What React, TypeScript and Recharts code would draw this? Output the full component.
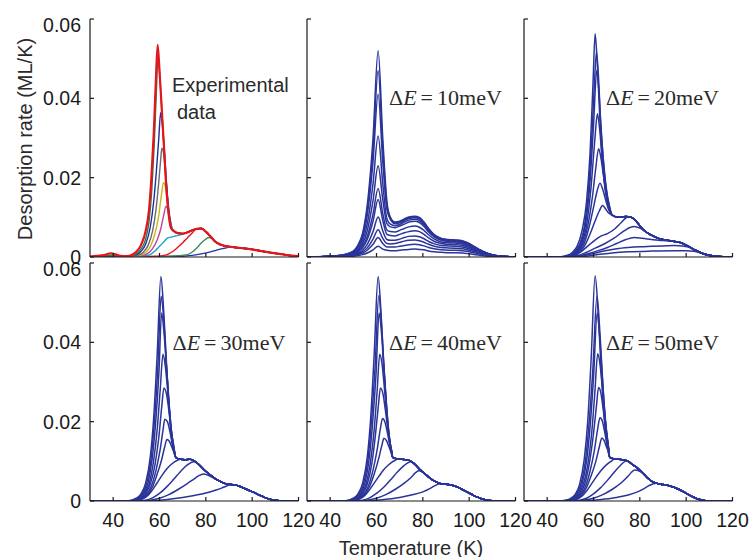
import React from "react";
import { LineChart, Line, XAxis, YAxis } from "recharts";

type Pt = [number, number];

// axis ticks: temperature in K, rate in 10^-3 ML/K
const xTicks = [40, 60, 80, 100, 120];
const yTicks = [0, 20, 40, 60];
const yTickLabels = ["0", "0.02", "0.04", "0.06"];
const deLabels = ["10", "20", "30", "40", "50"];

// ---------- experimental data (10^-3 ML/K) ----------
const expTail: Pt[] = [[66, 6.6], [68, 6.0], [70, 5.9], [72, 6.2], [74, 6.7], [76, 7.1], [78, 7.2], [80, 6.4], [82, 5.2], [84, 3.9], [86, 3.2], [88, 2.8], [90, 2.6], [93, 2.4], [96, 2.2], [99, 2.0], [102, 1.7], [105, 1.4], [108, 1.1], [111, 0.85], [114, 0.6], [117, 0.35], [120, 0.2]];
const expRed: Pt[] = [[30, 0.1], [33, 0.3], [36, 0.5], [39, 0.9], [41, 0.7], [43, 0.3], [46, 0.2], [48, 0.5], [50, 1.3], [52, 3], [54, 6.5], [55.5, 12], [56.5, 20], [57.5, 31], [58.4, 44], [59.2, 53.5], [60, 47], [61, 37], [62, 27], [63, 17], [64, 10.5], [65, 7.3]];
const expGreen: Pt[] = [[30, 0], [36, 0.3], [40, 0.4], [44, 0.2], [48, 0.3], [50, 0.8], [52, 2], [54, 4.5], [55.5, 9], [56.7, 17], [57.7, 28], [58.6, 41], [59.4, 50.5], [60.2, 45], [61, 37], [62, 27], [63, 17.5], [64, 10.5], [65, 7.3]];
const expBlue: Pt[] = [[30, 0], [40, 0.3], [46, 0.2], [50, 0.6], [52, 1.4], [54, 3.2], [56, 7.5], [57.5, 14], [58.7, 22], [59.7, 30], [60.5, 36.4], [61.3, 33], [62.2, 26], [63.1, 18], [64, 11.5], [65, 7.5]];
const expGray: Pt[] = [[30, 0], [40, 0.2], [47, 0.2], [51, 0.5], [53, 1.2], [55, 2.8], [57, 6.5], [58.5, 12], [59.7, 19], [60.5, 24.5], [61, 27.4], [61.8, 26], [62.6, 21], [63.5, 15], [64.5, 10], [65.5, 7]];
const expYellow: Pt[] = [[30, 0], [48, 0.2], [52, 0.5], [54, 1.1], [56, 2.6], [58, 5.8], [59.5, 9.8], [60.7, 15], [61.7, 18.7], [62.6, 17.5], [63.4, 14], [64.3, 10], [65.3, 7.2]];
const expMagenta: Pt[] = [[30, 0], [49, 0.1], [53, 0.4], [55, 0.9], [57, 2.1], [59, 4.3], [60.5, 7], [61.7, 10.2], [62.8, 12.8], [63.6, 12], [64.4, 10], [65.3, 7.5]];
const expCyan: Pt[] = [[30, 0], [50, 0.1], [54, 0.3], [56, 0.6], [58, 1.5], [60, 2.7], [62, 3.9], [63.5, 4.8], [65, 5.0], [67, 5.3], [69, 5.6], [71, 6.0]];
const expRedLow: Pt[] = [[30, 0], [52, 0.1], [58, 0.2], [62, 0.4], [64, 0.8], [66, 1.5], [68, 2.5], [70, 3.6], [72, 4.8], [74, 6], [75.3, 6.8]];
const expGreenLow: Pt[] = [[30, 0], [60, 0.1], [68, 0.3], [72, 0.6], [74, 1.2], [76, 2.2], [78, 3.5], [80, 4.5], [81.2, 4.9], [82.6, 4.6]];
const expBlueLow: Pt[] = [[30, 0], [60, 0.1], [70, 0.2], [74, 0.4], [78, 0.8], [82, 1.3], [85, 1.8], [88, 2.2], [90.5, 2.5]];

// drawn bottom to top
const expHeads = [expBlueLow, expGreenLow, expRedLow, expCyan, expMagenta, expYellow, expGray, expBlue, expGreen, expRed];
const expColors = ["#27339e", "#3b8a5c", "#e8141c", "#16a6c9", "#c0449c", "#c9b516", "#6b6b6b", "#1f2d9c", "#2e7b4f", "#e8141c"];

// ---------- dE = 10 meV ----------
const t10 = [30, 40, 46, 50, 52, 54, 56, 58.5, 60.7, 62.7, 64.5, 66, 68, 70, 72, 74, 76.5, 78.5, 80.5, 82.5, 85, 88, 91, 94, 97, 100, 104, 108, 112, 120];
const de10: number[][] = [
  [0, 0.2, 0.6, 1.5, 3.0, 6.0, 13, 30, 52, 30, 14, 10, 8.8, 9.0, 9.6, 10.1, 10.3, 10.0, 8.8, 7.2, 5.6, 4.7, 4.4, 4.3, 4.1, 3.4, 2.0, 0.9, 0.3, 0],
  [0, 0.2, 0.6, 1.4, 2.8, 5.5, 12, 27, 47, 27.5, 13, 9.8, 8.6, 8.8, 9.4, 9.9, 10.1, 9.8, 8.6, 7.0, 5.5, 4.6, 4.3, 4.2, 4.0, 3.3, 2.0, 0.9, 0.3, 0],
  [0, 0.2, 0.5, 1.3, 2.5, 4.9, 10.5, 24, 41, 24, 12, 9.5, 8.4, 8.6, 9.2, 9.7, 9.9, 9.6, 8.4, 6.9, 5.4, 4.5, 4.2, 4.1, 3.9, 3.2, 1.9, 0.9, 0.3, 0],
  [0, 0.2, 0.5, 1.1, 2.1, 4.0, 8.3, 18.5, 30.5, 18.5, 9.6, 8.3, 7.9, 8.2, 8.8, 9.3, 9.5, 9.2, 8.1, 6.6, 5.2, 4.4, 4.1, 4.0, 3.8, 3.1, 1.9, 0.9, 0.3, 0],
  [0, 0.2, 0.4, 1.0, 1.8, 3.3, 6.6, 14.2, 23, 14.5, 8.4, 7.6, 7.4, 7.8, 8.3, 8.8, 9.0, 8.7, 7.7, 6.3, 5.0, 4.2, 3.9, 3.8, 3.6, 3.0, 1.8, 0.8, 0.3, 0],
  [0, 0.2, 0.4, 0.9, 1.5, 2.7, 5.2, 10.8, 17.3, 11, 6.8, 6.4, 6.3, 6.7, 7.2, 7.6, 7.8, 7.5, 6.7, 5.6, 4.5, 3.8, 3.6, 3.5, 3.3, 2.7, 1.7, 0.8, 0.3, 0],
  [0, 0.2, 0.4, 0.8, 1.3, 2.3, 4.4, 9.0, 14.5, 9.2, 5.7, 5.4, 5.3, 5.7, 6.1, 6.4, 6.6, 6.4, 5.7, 4.8, 3.9, 3.4, 3.2, 3.1, 2.9, 2.4, 1.5, 0.7, 0.2, 0],
  [0, 0.1, 0.3, 0.6, 1.0, 1.7, 3.2, 6.4, 10.1, 6.6, 4.4, 4.2, 4.2, 4.5, 4.9, 5.2, 5.3, 5.1, 4.6, 3.9, 3.3, 2.9, 2.8, 2.7, 2.5, 2.1, 1.3, 0.6, 0.2, 0],
  [0, 0.1, 0.3, 0.5, 0.8, 1.3, 2.3, 4.5, 6.9, 4.7, 3.4, 3.3, 3.4, 3.7, 4.0, 4.2, 4.3, 4.1, 3.7, 3.2, 2.7, 2.4, 2.3, 2.2, 2.1, 1.7, 1.1, 0.5, 0.2, 0],
  [0, 0.1, 0.2, 0.4, 0.6, 1.0, 1.7, 3.2, 4.9, 3.4, 2.5, 2.5, 2.5, 2.7, 2.9, 3.1, 3.2, 3.1, 2.8, 2.4, 2.1, 1.8, 1.7, 1.7, 1.6, 1.3, 0.8, 0.4, 0.1, 0],
  [0, 0.1, 0.1, 0.2, 0.4, 0.6, 1.0, 1.8, 2.7, 2.0, 1.7, 1.6, 1.6, 1.7, 1.8, 1.9, 2.0, 1.9, 1.8, 1.5, 1.3, 1.2, 1.1, 1.1, 1.0, 0.8, 0.5, 0.2, 0.1, 0],
];

// ---------- dE = 20 meV ----------
const tail20: Pt[] = [[68, 10.6], [70, 10.1], [72, 10.1], [74, 10.2], [76, 10.1], [78, 9.3], [80, 7.9], [82, 6.6], [85, 5.5], [88, 4.7], [91, 4.3], [94, 4.0], [97, 3.7], [100, 3.0], [104, 1.7], [108, 0.7], [112, 0.25], [116, 0.05], [120, 0]];
const de20: Pt[][] = [
  [[30, 0], [44, 0], [48, 0.3], [51, 1.2], [53, 2.8], [55, 6.5], [57, 14], [58.5, 26], [59.8, 44], [60.7, 56.3], [61.6, 49], [62.5, 38], [63.5, 27], [65, 17], [66.5, 12.5]],
  [[30, 0], [45, 0], [49, 0.3], [52, 1.4], [54, 3.2], [56, 7.5], [58, 18], [59.5, 33], [60.5, 45], [61.3, 51.7], [62.1, 46], [63, 35], [64, 26], [65.5, 17], [67, 12.5]],
  [[30, 0], [46, 0], [50, 0.4], [52.5, 1.5], [54.5, 3.5], [56.5, 8], [58.5, 19], [60, 33], [61.4, 47], [62.3, 42], [63.2, 33], [64.2, 25], [65.5, 17.5], [67, 12.5]],
  [[30, 0], [46, 0], [50.5, 0.4], [53, 1.6], [55, 3.6], [57, 8], [59, 18], [60.5, 29], [61.7, 36.1], [62.7, 32], [63.7, 25], [65, 18], [66.5, 13]],
  [[30, 0], [47, 0], [51, 0.4], [53.5, 1.6], [55.5, 3.6], [57.5, 7.8], [59.5, 15], [61, 22.5], [62.2, 27.3], [63.2, 25], [64.2, 21], [65.5, 16], [67, 12]],
  [[30, 0], [47, 0], [51.5, 0.4], [54, 1.6], [56, 3.5], [58, 7.3], [60, 12.5], [61.5, 16.5], [62.8, 18.6], [64, 17], [65.2, 14.5], [66.5, 12]],
  [[30, 0], [48, 0], [52, 0.4], [54.5, 1.5], [56.5, 3.2], [58.5, 5.8], [60.5, 8.8], [62.5, 11.6], [63.9, 13], [65, 12.3], [66.3, 11.2]],
  [[30, 0], [48, 0], [52, 0.4], [55, 1.5], [58, 3], [60.5, 4.2], [63, 5.2], [66, 5.9], [69, 7], [72, 8.7], [74.5, 10]],
  [[30, 0], [48, 0], [53, 0.3], [57, 1.2], [61, 2.3], [65, 3.4], [69, 4.8], [73, 6.5], [76, 7.5], [77.6, 7.7], [80, 7.3], [82.5, 6.4]],
  [[30, 0], [48, 0], [54, 0.3], [58, 0.9], [62, 1.6], [66, 2.4], [70, 3.4], [74, 4.4], [77.5, 4.9], [81, 4.7], [85, 4.4], [88, 4.2], [91, 4.1]],
  [[30, 0], [48, 0], [55, 0.3], [60, 0.9], [65, 1.6], [70, 2.1], [75, 2.4], [80, 2.6], [85, 2.7], [90, 2.8], [95, 2.9], [98.5, 2.8], [101, 2.5]],
  [[30, 0], [50, 0], [56, 0.2], [62, 0.6], [68, 1.0], [75, 1.3], [85, 1.5], [95, 1.6], [100, 1.6], [104, 1.4]],
];

// ---------- dE = 30 meV ----------
const tail30: Pt[] = [[67, 11], [69, 10.5], [71, 10.4], [73, 10.5], [75, 10.1], [77, 9.2], [79, 8.0], [81, 7.0], [83, 6.1], [85, 5.3], [87, 4.7], [89, 4.3], [91, 4.15], [93, 4.0], [95, 3.6], [97, 3.1], [99, 2.6], [101, 2.1], [103, 1.5], [105, 1.0], [107, 0.55], [109, 0.25], [112, 0.05], [120, 0]];
const de30: Pt[][] = [
  [[30, 0], [45, 0], [48, 0.2], [50, 0.7], [52, 1.8], [54, 4.5], [56, 11], [57.5, 21], [59, 37], [60.6, 56.6], [61.8, 48], [63, 35], [64, 25], [65, 17], [66, 13]],
  [[30, 0], [45.5, 0], [48.5, 0.2], [50.5, 0.7], [52.5, 1.8], [54.5, 4.5], [56.3, 10.5], [57.8, 20], [59.3, 34], [60.7, 51.6], [61.9, 45], [63, 34], [64, 25], [65, 17.5], [66, 13.5]],
  [[30, 0], [46, 0], [49, 0.2], [51, 0.7], [53, 1.8], [55, 4.5], [56.8, 10.5], [58.3, 19.5], [59.8, 33], [60.9, 47.4], [62, 42], [63.1, 33], [64.1, 25], [65.1, 18], [66.1, 13.5]],
  [[30, 0], [46.5, 0], [49.5, 0.2], [51.5, 0.7], [53.5, 1.8], [55.5, 4.3], [57.3, 9.5], [59, 18], [60.3, 28], [61.5, 37], [62.5, 34], [63.5, 28], [64.5, 21.5], [65.5, 16], [66.5, 12.5]],
  [[30, 0], [47, 0], [50, 0.2], [52, 0.7], [54, 1.8], [56, 4.2], [58, 9], [59.7, 16], [61, 24], [61.9, 28.5], [63, 27], [64, 23], [65, 18], [66, 14.5]],
  [[30, 0], [47.5, 0], [50.5, 0.2], [52.5, 0.7], [54.5, 1.7], [56.5, 3.8], [58.5, 7.8], [60.3, 13], [61.5, 17.8], [62.3, 20.6], [63.4, 20], [64.5, 17.5], [65.5, 14.5], [66.5, 12.5]],
  [[30, 0], [48, 0], [51, 0.2], [53, 0.7], [55, 1.7], [57, 3.6], [59, 6.8], [61, 10.6], [62.3, 13.8], [63.2, 15.5], [64.3, 15], [65.3, 13.6], [66.3, 12.2]],
  [[30, 0], [48, 0], [51, 0.2], [53, 0.6], [55, 1.4], [57, 2.8], [59, 4.6], [61, 6.4], [63, 8], [65, 9.2], [67.5, 10.2]],
  [[30, 0], [50, 0], [54, 0.2], [57, 0.8], [60, 1.9], [63, 3.5], [66, 5.4], [69, 7.4], [72, 9.1], [74.7, 9.9], [76.3, 9.5]],
  [[30, 0], [52, 0], [56, 0.2], [60, 0.7], [64, 1.6], [68, 2.9], [72, 4.4], [75, 5.6], [77, 6.4], [79, 6.8], [81, 6.5], [83, 5.9]],
  [[30, 0], [55, 0], [60, 0.2], [65, 0.5], [70, 0.9], [75, 1.4], [80, 2.0], [84, 2.7], [87, 3.3], [89, 3.8], [91, 4.1]],
];

// ---------- dE = 40 meV ----------
const tail40: Pt[] = [[67, 11], [69, 10.6], [71, 10.5], [73, 10.4], [75, 10.0], [77, 9.0], [79, 7.8], [81, 6.8], [83, 5.8], [85, 5.0], [87, 4.5], [89, 4.25], [91, 4.15], [93, 3.9], [95, 3.5], [97, 2.9], [99, 2.3], [101, 1.7], [103, 1.1], [105, 0.65], [107, 0.3], [110, 0.05], [120, 0]];
const de40: Pt[][] = [
  [[30, 0], [45, 0], [48, 0.2], [50, 0.7], [52, 1.8], [54, 4.5], [56, 11], [57.5, 21], [59, 37], [60.7, 56.6], [61.9, 48], [63, 36], [64, 26], [65, 18], [66, 13.5]],
  [[30, 0], [45.5, 0], [48.5, 0.2], [50.5, 0.7], [52.5, 1.8], [54.5, 4.5], [56.3, 10.5], [57.8, 20], [59.4, 34], [61, 51.8], [62.1, 45], [63.1, 35], [64.1, 26], [65.1, 18.5], [66.1, 13.8]],
  [[30, 0], [46, 0], [49, 0.2], [51, 0.7], [53, 1.8], [55, 4.5], [56.8, 10.5], [58.3, 19.5], [59.8, 32], [61.1, 47.4], [62.2, 42], [63.2, 33], [64.2, 25], [65.2, 18], [66.2, 13.5]],
  [[30, 0], [46.5, 0], [49.5, 0.2], [51.5, 0.7], [53.5, 1.8], [55.5, 4.3], [57.3, 9.5], [59, 18], [60.3, 28], [61.4, 37], [62.4, 34.5], [63.4, 28.5], [64.4, 22], [65.4, 16.5], [66.4, 12.8]],
  [[30, 0], [47, 0], [50, 0.2], [52, 0.7], [54, 1.8], [56, 4.2], [58, 9.5], [59.6, 17], [60.8, 24], [61.7, 28.5], [62.8, 27], [63.8, 23], [64.8, 18.5], [65.8, 14.5], [66.6, 12.5]],
  [[30, 0], [47.5, 0], [50.5, 0.2], [52.5, 0.7], [54.5, 1.7], [56.5, 3.8], [58.5, 7.8], [60.3, 13], [61.6, 18], [62.6, 20.8], [63.6, 20], [64.6, 17.5], [65.6, 14.5], [66.6, 12.5]],
  [[30, 0], [48, 0], [51, 0.2], [53, 0.7], [55, 1.7], [57, 3.6], [59, 6.8], [61, 10.8], [62.3, 14], [63.2, 15.8], [64.3, 15.2], [65.3, 13.8], [66.3, 12.2]],
  [[30, 0], [48, 0], [51, 0.2], [53, 0.6], [55, 1.4], [57, 2.8], [59, 4.5], [61, 6.2], [63, 7.8], [65, 9], [67, 9.9], [68.5, 10.4]],
  [[30, 0], [50, 0], [54, 0.2], [57, 0.8], [60, 1.9], [63, 3.4], [66, 5.3], [69, 7.3], [72, 9.0], [74.7, 9.9], [76.3, 9.5]],
  [[30, 0], [52, 0], [56, 0.2], [60, 0.7], [64, 1.6], [68, 2.9], [72, 4.5], [75, 6.0], [77, 7.2], [78.3, 7.6], [80, 7.2], [82, 6.2]],
  [[30, 0], [55, 0], [60, 0.2], [65, 0.5], [70, 0.9], [75, 1.5], [80, 2.3], [83, 3.1], [85, 3.8], [87, 4.3]],
];

// ---------- dE = 50 meV ----------
const tail50: Pt[] = [[67, 11], [69, 10.6], [71, 10.5], [73, 10.4], [75, 10.0], [77, 9.1], [79, 8.3], [81, 7.2], [83, 6.0], [85, 5.0], [87, 4.5], [89, 4.25], [91, 4.1], [93, 3.8], [95, 3.4], [97, 2.9], [99, 2.3], [101, 1.6], [103, 1.0], [105, 0.5], [107, 0.2], [110, 0.03], [120, 0]];
const de50: Pt[][] = [
  [[30, 0], [45, 0], [48, 0.2], [50, 0.6], [52, 1.6], [54, 4.2], [56, 10.5], [57.5, 20], [59, 36], [60.7, 56.8], [61.9, 48.5], [63, 36.5], [64, 26.5], [65, 18.5], [66, 13.5]],
  [[30, 0], [45.5, 0], [48.5, 0.2], [50.5, 0.6], [52.5, 1.6], [54.5, 4.2], [56.5, 10], [58, 19], [59.7, 33], [61.5, 51.6], [62.5, 45], [63.4, 36], [64.3, 27], [65.3, 19], [66.3, 14]],
  [[30, 0], [46, 0], [49, 0.2], [51, 0.6], [53, 1.6], [55, 4.2], [57, 10], [58.5, 18.5], [60, 31], [61.6, 47.4], [62.6, 42], [63.5, 34], [64.4, 26], [65.4, 19], [66.4, 14]],
  [[30, 0], [46.5, 0], [49.5, 0.2], [51.5, 0.6], [53.5, 1.6], [55.5, 4], [57.5, 9], [59.2, 17], [60.6, 27.5], [61.8, 37.1], [62.8, 34.5], [63.8, 28.5], [64.8, 22], [65.8, 16.5], [66.6, 13]],
  [[30, 0], [47, 0], [50, 0.2], [52, 0.6], [54, 1.6], [56, 3.9], [58, 8.8], [59.8, 16], [61.2, 23.5], [62.2, 28.6], [63.2, 27.2], [64.2, 23], [65.2, 18.5], [66.2, 14.5]],
  [[30, 0], [47.5, 0], [50.5, 0.2], [52.5, 0.6], [54.5, 1.6], [56.5, 3.6], [58.5, 7.5], [60.3, 12.5], [61.7, 17.8], [62.8, 21], [63.8, 20.2], [64.8, 17.5], [65.8, 14.5], [66.6, 12.8]],
  [[30, 0], [48, 0], [51, 0.2], [53, 0.6], [55, 1.6], [57, 3.4], [59, 6.4], [61, 10], [62.5, 13.6], [63.6, 15.9], [64.6, 15.2], [65.6, 13.6], [66.5, 12.3]],
  [[30, 0], [48, 0], [51, 0.2], [53, 0.5], [55, 1.2], [57, 2.5], [59, 4.2], [61, 5.9], [63, 7.5], [65, 8.8], [67, 9.8], [68.5, 10.4]],
  [[30, 0], [50, 0], [54, 0.2], [57, 0.7], [60, 1.8], [63, 3.3], [66, 5.2], [69, 7.3], [72, 9.2], [74, 10.1], [76, 9.6]],
  [[30, 0], [52, 0], [56, 0.2], [60, 0.7], [64, 1.6], [68, 2.9], [72, 4.6], [75, 6.3], [76.5, 7.3], [77.8, 7.8], [80, 7.5]],
  [[30, 0], [55, 0], [60, 0.2], [65, 0.5], [70, 0.9], [75, 1.5], [79, 2.3], [82, 3.2], [84, 3.9], [85.6, 4.3]],
];

// ---------- layout ----------
const PLOT_W = 208.5;
const PLOT_H = 238;
const AX_W = 60;
const AX_H = 34;
const PAD = 5;
const PAD_R = 24;
const colLeft = [90, 307, 523.5];
const rowTop = [19, 262.5];
const SIM_BLUE = "#2a3499";
const INK = "#1a1a1a";

const withTail = (head: Pt[], tail: Pt[]): Pt[] => {
  const last = head[head.length - 1][0];
  return [...head, ...tail.filter(([t]) => t > last + 0.2)];
};
const toRows = (pts: Pt[]) => pts.map(([t, v]) => ({ t, v }));

interface Series {
  data: { t: number; v: number }[];
  color: string;
  width: number;
}

const expSeries: Series[] = expHeads.map((h, i) => ({
  data: toRows(withTail(h, expTail)),
  color: expColors[i],
  width: i === expHeads.length - 1 ? 2.2 : 1.4,
}));

const simSeries = (curves: Pt[][], tail: Pt[]): Series[] =>
  curves.map((h) => ({ data: toRows(withTail(h, tail)), color: SIM_BLUE, width: 1.5 }));

const panels: Series[][] = [
  expSeries,
  de10.map((vals) => ({ data: t10.map((t, i) => ({ t, v: vals[i] })), color: SIM_BLUE, width: 1.5 })),
  simSeries(de20, tail20),
  simSeries(de30, tail30),
  simSeries(de40, tail40),
  simSeries(de50, tail50),
];

const tickStyle = { fontSize: 19.5, fill: INK, fontFamily: "Liberation Sans, Arial, sans-serif" };
const frame = { stroke: INK, strokeWidth: 1.2 };

const Panel = ({ series, col, row }: { series: Series[]; col: number; row: number }) => {
  const showX = row === 1;
  const showY = col === 0;
  return (
    <div style={{ position: "absolute", left: colLeft[col] - AX_W, top: rowTop[row] - PAD }}>
      <LineChart
        width={AX_W + PLOT_W + PAD_R}
        height={PAD + PLOT_H + AX_H}
        margin={{ top: PAD, right: PAD_R, bottom: 0, left: 0 }}
      >
        <XAxis
          xAxisId="b"
          dataKey="t"
          type="number"
          domain={[30, 120]}
          allowDataOverflow
          ticks={xTicks}
          height={AX_H}
          tickSize={-4}
          tickMargin={16}
          axisLine={frame}
          tickLine={frame}
          tick={tickStyle}
          tickFormatter={(v: number) => (showX ? String(v) : "")}
        />
        <XAxis
          xAxisId="t"
          orientation="top"
          type="number"
          domain={[30, 120]}
          allowDataOverflow
          ticks={xTicks}
          height={0}
          tickSize={-4}
          axisLine={frame}
          tickLine={frame}
          tickFormatter={() => ""}
        />
        <YAxis
          yAxisId="l"
          type="number"
          domain={[0, 60]}
          allowDataOverflow
          ticks={yTicks}
          width={AX_W}
          tickSize={-4}
          tickMargin={13}
          axisLine={frame}
          tickLine={frame}
          tick={tickStyle}
          tickFormatter={(v: number) => (showY ? yTickLabels[yTicks.indexOf(v)] : "")}
        />
        <YAxis
          yAxisId="r"
          orientation="right"
          type="number"
          domain={[0, 60]}
          allowDataOverflow
          ticks={yTicks}
          width={0}
          tickSize={-4}
          axisLine={frame}
          tickLine={frame}
          tickFormatter={() => ""}
        />
        {series.map((s, i) => (
          <Line
            key={i}
            xAxisId="b"
            yAxisId="l"
            data={s.data}
            dataKey="v"
            type="monotone"
            stroke={s.color}
            strokeWidth={s.width}
            dot={false}
            activeDot={false}
            isAnimationActive={false}
          />
        ))}
      </LineChart>
    </div>
  );
};

// ΔE annotation positions: [x, baseline]
const deLabelPos: [number, number][] = [
  [389, 105],
  [606, 105],
  [172.5, 350],
  [389, 350],
  [606, 350],
];

const App = () => {
  return (
    <div style={{ position: "fixed", left: 0, top: 0, width: 750, height: 557, background: "#fff", overflow: "hidden" }}>
      {panels.map((s, i) => (
        <Panel key={i} series={s} col={i % 3} row={Math.floor(i / 3)} />
      ))}
      <svg width={750} height={557} style={{ position: "absolute", left: 0, top: 0, pointerEvents: "none" }}>
        <g fontFamily="Liberation Sans, Arial, sans-serif" fontSize={20} fill="#2a2a2a">
          <text x={32} y={139} textAnchor="middle" transform="rotate(-90 32 139)">
            Desorption rate (ML/K)
          </text>
          <text x={411} y={555} textAnchor="middle">
            Temperature (K)
          </text>
          <text x={172} y={92}>Experimental</text>
          <text x={177} y={119}>data</text>
        </g>
        <g fontFamily="Liberation Serif, Times New Roman, serif" fontSize={22} fill="#2a2a2a">
          {deLabels.map((d, i) => (
            <text key={d} x={deLabelPos[i][0]} y={deLabelPos[i][1]}>
              Δ<tspan fontStyle="italic">E</tspan>
              <tspan dx={4}>=</tspan>
              <tspan dx={4}>{d}meV</tspan>
            </text>
          ))}
        </g>
      </svg>
    </div>
  );
};

export default App;
